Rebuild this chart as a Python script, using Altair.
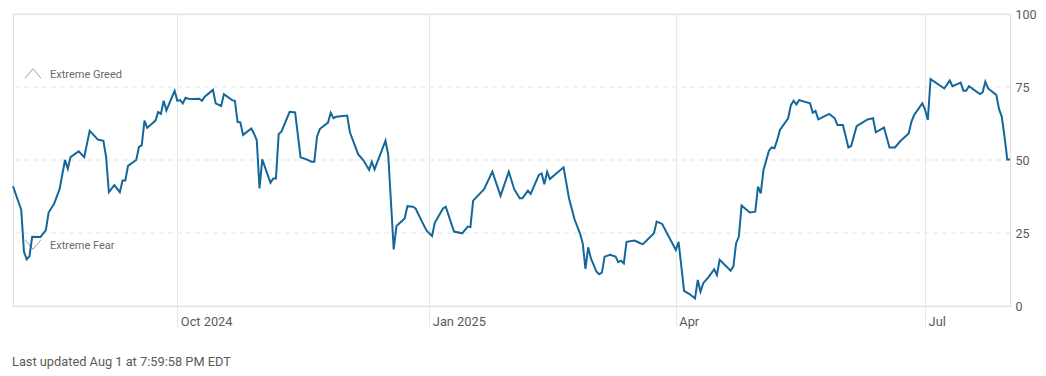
import altair as alt
import pandas as pd

# Fear & Greed index
start_date = "2024-08-02"
day_offsets = [
    0, 3, 4, 5, 6, 7, 10, 12, 13, 15,
    17, 19, 20, 21, 24, 26, 28, 31, 33, 34,
    35, 37, 39, 40, 41, 42, 45, 46, 47, 48,
    49, 52, 53, 54, 55, 56, 59, 60, 61, 62,
    63, 64, 66, 68, 69, 70, 73, 74, 76, 77,
    80, 81, 82, 83, 84, 87, 88, 89, 90, 91,
    94, 95, 96, 97, 98, 101, 103, 105, 107, 109,
    110, 111, 112, 115, 116, 117, 118, 122, 123, 126,
    128, 130, 131, 132, 136, 137, 139, 140, 143, 144,
    146, 147, 149, 151, 153, 154, 157, 158, 161, 164,
    166, 167, 168, 172, 175, 178, 181, 183, 185, 186,
    188, 189, 192, 193, 194, 195, 196, 201, 203, 205,
    207, 208, 209, 210, 211, 213, 214, 215, 216, 218,
    220, 221, 222, 223, 224, 227, 229, 230, 234, 235,
    237, 242, 243, 245, 247, 249, 250, 251, 252, 254,
    256, 257, 258, 262, 263, 264, 265, 266, 269, 271,
    272, 273, 274, 276, 277, 278, 279, 280, 283, 284,
    285, 286, 287, 291, 292, 293, 294, 298, 300, 301,
    303, 305, 306, 308, 312, 314, 315, 318, 320, 322,
    324, 327, 328, 329, 332, 333, 334, 335, 340, 342,
    343, 346, 347, 348, 349, 353, 354, 355, 356, 359,
    360, 361, 362, 363, 364,
]
index_values = [
    41, 33, 18.6, 16, 17, 23.7, 23.6, 26, 32, 35,
    40, 50, 47, 51, 53, 51, 60, 57, 56.6, 51,
    39, 41.4, 39, 43, 43, 48, 50, 54.5, 55, 63.5,
    61, 63.5, 66.4, 65.8, 70.3, 67, 73.7, 70.3, 70.5, 69.4,
    71.3, 71, 70.9, 71, 70.3, 71.7, 74, 69.4, 68.5, 72.5,
    70.5, 70.3, 63, 62.9, 58.6, 60.8, 59, 56.8, 40.3, 50.2,
    42.2, 43.7, 43.7, 58.9, 59.7, 66.5, 66.3, 50.9, 50.3, 49.4,
    49.4, 58, 60.6, 62.8, 66.2, 64.3, 64.8, 65.2, 59.5, 52,
    49.8, 46.6, 49.4, 46.8, 56.6, 51.7, 19.4, 27.4, 30, 34.2,
    34, 33.4, 29.5, 25.8, 24, 28.5, 33.4, 34, 25.5, 24.9,
    27.2, 27, 36.1, 40, 46, 37.7, 46, 40, 36.9, 36.9,
    39.5, 38.4, 44.9, 45.4, 41.7, 46, 43.5, 47.5, 36.9, 29.7,
    24.9, 21.5, 12.7, 20.1, 16.3, 11.8, 10.9, 11.4, 16.9, 17.5,
    16.9, 15, 15.5, 14.6, 22, 22.4, 21.5, 21.2, 24.9, 28.9,
    28.1, 19.2, 22, 5.2, 4.1, 2.6, 8.9, 4.9, 7.8, 10,
    12.6, 10.6, 15.8, 12.1, 13.5, 21.5, 23.7, 34.4, 32, 32.3,
    40.9, 38.6, 46.6, 53.2, 54.3, 54, 56.8, 60.3, 64.3, 68.8,
    70.3, 69, 70.5, 69.4, 66.2, 66.8, 63.9, 65.8, 64.3, 62,
    62, 54.3, 54.8, 61.6, 63.9, 64.3, 59.5, 61.1, 54.3, 54.3,
    56.5, 59.1, 63.1, 65.4, 69.4, 67.3, 63.7, 77.7, 74.5, 77.2,
    75.3, 76.5, 73.7, 73.7, 75.3, 72.6, 73.2, 76.8, 74.5, 72.3,
    67.4, 64.8, 58, 50.2, 50.2,
]
solid_levels = [0, 100]
dashed_levels = [25, 50, 75]
tick_dates = ["2024-10-01", "2025-01-01", "2025-04-01", "2025-07-01"]
footer = "Last updated Aug 1 at 7:59:58 PM EDT"

dates = pd.Timestamp(start_date) + pd.to_timedelta(day_offsets, unit="D")
df = pd.DataFrame({"date": dates.strftime("%Y-%m-%dT00:00:00"), "value": index_values})

FONT = "Roboto"
GRID = "#e8e8e8"
LABEL = "#5a5a5a"

def dt(s):
    y, m, d = [int(p) for p in s.split("-")]
    return alt.DateTime(year=y, month=m, date=d)

x_enc = alt.X(
    "date:T",
    title=None,
    scale=alt.Scale(domain=[dt("2024-08-02"), dt("2025-08-01")], nice=False),
    axis=alt.Axis(
        values=[dt(s) for s in tick_dates],
        labelExpr="(month(datum.value) == 0 || month(datum.value) == 9) ? timeFormat(datum.value, '%b %Y') : timeFormat(datum.value, '%b')",
        grid=True, gridColor=GRID, gridWidth=1,
        domain=False, ticks=True, tickSize=21, tickColor=GRID,
        labelAlign="left", labelOffset=3, labelPadding=-12,
        labelFont=FONT, labelFontSize=12.8, labelColor=LABEL,
    ),
)
y_scale = alt.Scale(domain=[0, 100], nice=False)
y_enc = alt.Y(
    "value:Q", title=None, scale=y_scale,
    axis=alt.Axis(
        orient="right", values=[0, 25, 50, 75, 100], grid=False, domain=False,
        ticks=False, labelPadding=5, labelFont=FONT, labelFontSize=12.5, labelColor=LABEL,
    ),
)

base_x = alt.Chart(df).mark_line(opacity=0).encode(x=x_enc, y=y_enc)

solid = alt.Chart(pd.DataFrame({"v": solid_levels})).mark_rule(color=GRID, strokeWidth=1).encode(
    y=alt.Y("v:Q", scale=y_scale)
)
dashed = alt.Chart(pd.DataFrame({"v": dashed_levels})).mark_rule(
    color="#e3e3e3", strokeWidth=1, strokeDash=[5, 4]
).encode(y=alt.Y("v:Q", scale=y_scale))

line = alt.Chart(df).mark_line(color="#13679b", strokeWidth=2, interpolate="linear").encode(
    x="date:T", y="value:Q"
)

ann = pd.DataFrame({"label": ["Extreme Greed", "Extreme Fear"], "py": [61, 232]})
ann_text = alt.Chart(ann).mark_text(
    align="left", baseline="middle", font=FONT, fontSize=11, color="#6a6a6a"
).encode(x=alt.value(37), y=alt.Y("py:Q", scale=None), text="label:N")

up_caret = alt.Chart(pd.DataFrame({"k": [0]})).mark_point(
    shape="M -1 0.6 L 0 -0.6 L 1 0.6", size=256, filled=False, stroke="#777777", strokeWidth=1
).encode(x=alt.value(20), y=alt.value(59.5))
down_caret = alt.Chart(pd.DataFrame({"k": [0]})).mark_point(
    shape="M -1 -0.6 L 0 0.6 L 1 -0.6", size=256, filled=False, stroke="#777777", strokeWidth=1
).encode(x=alt.value(20), y=alt.value(230.5))

chart = alt.layer(base_x, solid, dashed, ann_text, up_caret, down_caret, line).properties(
    width=997,
    height=292,
    padding={"left": 1, "top": 0, "right": 0, "bottom": 5},
    title=alt.TitleParams(
        text=footer, orient="bottom", anchor="start", font=FONT, fontSize=12.8,
        fontWeight="normal", color=LABEL, offset=28, dx=3,
    ),
).configure_view(stroke=None).configure(background="white")

chart.save("out.html", embed_options={"renderer": "svg", "actions": False})
